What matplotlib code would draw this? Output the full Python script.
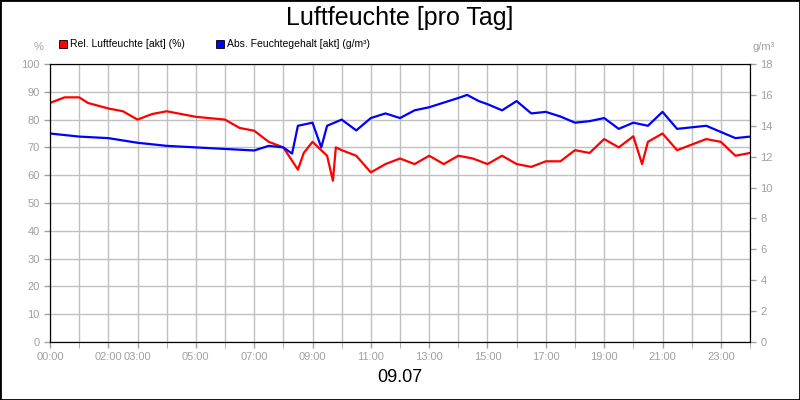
import matplotlib
matplotlib.use("Agg")
import matplotlib.pyplot as plt
from matplotlib.patches import Rectangle

plt.rcParams['font.family'] = ['Liberation Sans', 'DejaVu Sans']

rel_t = [0,0.5,1,1.3,2,2.5,3,3.5,4,5,6,6.5,7,7.5,8,8.5,8.7,9,9.5,9.7,9.8,10,10.5,11,11.5,12,12.5,13,13.5,14,14.5,15,15.5,16,16.5,17,17.5,18,18.5,19,19.5,20,20.3,20.5,21,21.5,22,22.5,23,23.5,24]
rel_v = [86,88,88,86,84,83,80,82,83,81,80,77,76,72,70,62,68,72,67,58,70,69,67,61,64,66,64,67,64,67,66,64,67,64,63,65,65,69,68,73,70,74,64,72,75,69,71,73,72,67,68]
abs_t = [0,1,2,3,4,5,6,7,7.5,8,8.3,8.5,9,9.3,9.5,10,10.5,11,11.5,12,12.5,13,13.5,14,14.3,14.7,15,15.5,16,16.5,17,17.5,18,18.5,19,19.5,20,20.5,21,21.5,22,22.5,23,23.5,24]
abs_v = [13.5,13.3,13.2,12.9,12.7,12.6,12.5,12.4,12.7,12.6,12.2,14.0,14.2,12.6,14.0,14.4,13.7,14.5,14.8,14.5,15.0,15.2,15.5,15.8,16.0,15.6,15.4,15.0,15.6,14.8,14.9,14.6,14.2,14.3,14.5,13.8,14.2,14.0,14.9,13.8,13.9,14.0,13.6,13.2,13.3]
xt = [0,2,3,5,7,9,11,13,15,17,19,21,23]
xl = ["00:00","02:00","03:00","05:00","07:00","09:00","11:00","13:00","15:00","17:00","19:00","21:00","23:00"]

fig = plt.figure(figsize=(8,4), dpi=100)
fig.patches.append(Rectangle((0,0),1,1,transform=fig.transFigure,fill=False,edgecolor='black',lw=2))
ax = fig.add_axes([50/800, 58/400, 700/800, 278/400])
ax2 = ax.twinx()
ax.plot(rel_t, rel_v, color='#ff0000', lw=1.6)
ax2.plot(abs_t, abs_v, color='#0000ff', lw=1.6)
ax.set_xlim(0,24); ax.set_ylim(0,100); ax2.set_ylim(0,18)
ax.set_xticks(range(25), minor=True)
ax.set_xticks(xt); ax.set_xticklabels(xl)
ax.set_yticks(range(0,101,10)); ax2.set_yticks(range(0,19,2))
ax.grid(True, which='both', axis='x', color='#c0c0c0', lw=1)
ax.grid(True, axis='y', color='#c0c0c0', lw=1)
ax.set_axisbelow(True)
for a in (ax, ax2):
    a.tick_params(colors='#a0a0a0', labelsize=8, length=4, width=1)
    a.tick_params(which='minor', length=4, color='#a0a0a0')
    for s in a.spines.values():
        s.set_color('black')
ax.text(-0.01, 1.05, '%', transform=ax.transAxes, ha='right', fontsize=8, color='#a0a0a0')
ax2.text(1.035, 1.05, 'g/m³', transform=ax.transAxes, ha='right', fontsize=8, color='#a0a0a0')
fig.text(0.5, 0.955, 'Luftfeuchte [pro Tag]', ha='center', va='center', fontsize=18)
fig.text(0.5, 0.055, '09.07', ha='center', va='center', fontsize=13)
fig.patches.append(Rectangle((59/800, 1-48/400), 8/800, 8/400, transform=fig.transFigure, facecolor='#ff0000', edgecolor='black', lw=0.6))
fig.text(70/800, 1-44/400, 'Rel. Luftfeuchte [akt] (%)', fontsize=7.5, va='center')
fig.patches.append(Rectangle((216/800, 1-48/400), 8/800, 8/400, transform=fig.transFigure, facecolor='#0000ff', edgecolor='black', lw=0.6))
fig.text(227/800, 1-44/400, 'Abs. Feuchtegehalt [akt] (g/m³)', fontsize=7.5, va='center')
fig.savefig('out.png', dpi=100)
